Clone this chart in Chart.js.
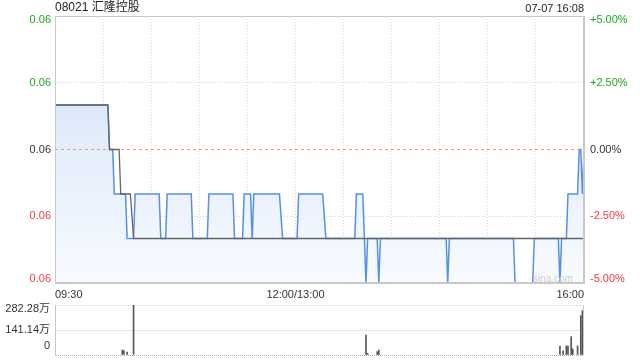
<!DOCTYPE html>
<html lang="zh">
<head>
  <meta charset="UTF-8">
  <title>08021 汇隆控股 - 分时</title>
  <script src="https://cdn.jsdelivr.net/npm/chart.js"></script>
  <style>
    body { margin: 0; background: #fff; overflow: hidden; }
    .wrap {
      position: relative;
      width: 640px;
      height: 360px;
      overflow: hidden;
      font-family: Arial, "Liberation Sans", "Noto Sans CJK SC", sans-serif;
    }
    #mainChart { position: absolute; left: 0; top: 0; }
    #volChart { position: absolute; left: 0; top: 280px; }
    .title { position: absolute; left: 55px; top: 0; font-size: 12px; line-height: 15px; color: #222; }
    .stamp { position: absolute; right: 56px; top: 1px; font-size: 11px; line-height: 14px; color: #222; }
    .mark { position: absolute; left: 533px; top: 273px; font-size: 10px; color: #ccc; pointer-events: none; }
  </style>
</head>
<body>
  <div class="wrap">
    <canvas id="mainChart" width="640" height="305"></canvas>
    <canvas id="volChart" width="640" height="100"></canvas>
    <div class="title">08021 汇隆控股</div>
    <div class="stamp">07-07 16:08</div>
    <div class="mark">sina.com</div>
  </div>

  <script>
    // données
    const prevClose = 0.060;
    const priceTicks = [0.057, 0.0585, 0.060, 0.0615, 0.063];
    const pctTicks = [-5, -2.5, 0, 2.5, 5];
    const tickTimes = ['09:30', '12:00', '16:00'];
    const tickTexts = ['09:30', '12:00/13:00', '16:00'];

    const priceTimes = ['09:30', '10:03', '10:04', '10:06', '10:07', '10:14', '10:15', '10:19', '10:20', '10:35',
      '10:36', '10:39', '10:40', '10:55', '10:56', '11:05', '11:06', '11:21', '11:22', '11:27',
      '11:28', '11:32', '11:33', '11:34', '11:50', '11:52', '13:01', '13:02', '13:17', '13:19',
      '13:37', '13:38', '13:42', '13:44', '13:45', '13:51', '13:52', '13:53', '14:34', '14:35',
      '14:36', '15:16', '15:17', '15:28', '15:29', '15:44', '15:45', '15:46', '15:49', '15:50',
      '15:56', '15:57', '15:58', '15:59', '16:00'];
    const priceValues = [0.061, 0.061, 0.060, 0.060, 0.059, 0.059, 0.058, 0.058, 0.059, 0.059,
      0.058, 0.058, 0.059, 0.059, 0.058, 0.058, 0.059, 0.059, 0.058, 0.058,
      0.059, 0.059, 0.058, 0.059, 0.059, 0.058, 0.058, 0.059, 0.059, 0.058,
      0.058, 0.059, 0.059, 0.057, 0.058, 0.058, 0.057, 0.058, 0.058, 0.057,
      0.058, 0.058, 0.057, 0.057, 0.058, 0.058, 0.057, 0.058, 0.058, 0.059,
      0.059, 0.060, 0.060, 0.059, 0.060];

    const avgTimes = ['09:30', '10:03', '10:04', '10:10', '10:11', '10:17', '10:19', '16:00'];
    const avgValues = [0.061, 0.061, 0.060, 0.060, 0.059, 0.059, 0.058, 0.058];

    const volTimes = ['10:12', '10:13', '10:15', '10:19', '13:44', '13:45', '13:51', '13:52',
      '15:45', '15:47', '15:49', '15:50', '15:52', '15:53', '15:56', '15:58', '15:59'];
    const volValues = [28, 25, 17, 282.28, 113, 10, 19, 28,
      51, 23, 51, 51, 103, 34, 51, 222, 250];
    const volTicks = [0, 141.14, 282.28];
    const volTexts = ['0', '141.14万', '282.28万'];

    // minutes de séance depuis 09:30, pause de midi retirée
    function toIdx(t) {
      const [h, m] = t.split(':').map(Number);
      const mins = h * 60 + m;
      return mins <= 720 ? mins - 570 : mins - 630;
    }
    const pts = (times, vals) => times.map((t, i) => ({ x: toIdx(t), y: vals[i] }));

    const GREEN = '#1ea51e', RED = '#f03c3c', DARK = '#333';
    const FONT = { family: 'Arial, "Liberation Sans", "Noto Sans CJK SC", sans-serif', size: 11, lineHeight: 0.8 };

    const frame = {
      id: 'frame',
      afterDraw(chart, args, opts) {
        const { ctx, chartArea: a } = chart;
        const l = Math.round(a.left) + 0.5, r = Math.round(a.right) - 0.5;
        const t = Math.round(a.top) + 0.5, b = Math.round(a.bottom) - 0.5;
        ctx.save();
        ctx.strokeStyle = '#c8c8c8';
        ctx.lineWidth = 1;
        ctx.beginPath();
        if (opts.box) {
          ctx.rect(l, t, r - l, b - t);
        } else {
          ctx.moveTo(l, t); ctx.lineTo(l, b);
          ctx.moveTo(r, t); ctx.lineTo(r, b);
        }
        ctx.stroke();
        ctx.restore();
      }
    };

    function tickColor(v, ref) {
      if (Math.abs(v - ref) < 1e-9) return DARK;
      return v > ref ? GREEN : RED;
    }

    new Chart(document.getElementById('mainChart'), {
      type: 'line',
      data: {
        datasets: [{
          label: '均价',
          data: pts(avgTimes, avgValues),
          borderColor: '#666',
          borderWidth: 1.3,
          pointRadius: 0,
          fill: false
        }, {
          label: '昨收',
          data: [{ x: 0, y: prevClose }, { x: 330, y: prevClose }],
          borderColor: '#f09a66',
          borderWidth: 1,
          borderDash: [3, 3],
          pointRadius: 0,
          fill: false
        }, {
          label: '价格',
          data: pts(priceTimes, priceValues),
          borderColor: '#5590e8',
          borderWidth: 1.5,
          pointRadius: 0,
          fill: 'start',
          backgroundColor: (c) => {
            const area = c.chart.chartArea;
            if (!area) return '#e4edfa';
            const g = c.chart.ctx.createLinearGradient(0, area.top, 0, area.bottom);
            g.addColorStop(0, '#d0e0f7');
            g.addColorStop(1, '#f8fbff');
            return g;
          }
        }]
      },
      options: {
        responsive: false,
        animation: false,
        layout: { padding: { top: 16 } },
        plugins: {
          legend: { display: false },
          tooltip: { enabled: false },
          frame: { box: true }
        },
        scales: {
          x: {
            type: 'linear',
            min: 0,
            max: 330,
            afterFit: (s) => { s.height = 22; },
            grid: { color: '#d4d4d4', drawTicks: false },
            border: { color: '#c8c8c8', dash: [1, 2] },
            ticks: {
              stepSize: 30,
              autoSkip: false,
              maxRotation: 0,
              align: 'inner',
              padding: 5,
              color: DARK,
              font: { family: FONT.family, size: 11 },
              callback: (v) => {
                const i = tickTimes.map(toIdx).indexOf(v);
                return i >= 0 ? tickTexts[i] : '';
              }
            }
          },
          y: {
            position: 'left',
            min: priceTicks[0],
            max: priceTicks[priceTicks.length - 1],
            afterFit: (s) => { s.width = 55; },
            afterBuildTicks: (s) => { s.ticks = priceTicks.map(v => ({ value: v })); },
            grid: {
              drawTicks: false,
              color: (c) => (c.tick && Math.abs(c.tick.value - prevClose) < 1e-9) ? 'rgba(0,0,0,0)' : '#d4d4d4'
            },
            border: { color: '#c8c8c8', dash: [1, 2] },
            ticks: {
              padding: 4,
              autoSkip: false,
              font: FONT,
              color: (c) => tickColor(c.tick.value, prevClose),
              callback: (v, i, arr) => {
                const s = v.toFixed(2);
                if (i === arr.length - 1) return ['', s];
                if (i === 0) return [s, ''];
                return s;
              }
            }
          },
          pct: {
            position: 'right',
            min: -5,
            max: 5,
            afterFit: (s) => { s.width = 56; },
            afterBuildTicks: (s) => { s.ticks = pctTicks.map(v => ({ value: v })); },
            grid: { display: false, drawTicks: false },
            border: { color: '#c8c8c8' },
            ticks: {
              padding: 6,
              autoSkip: false,
              font: FONT,
              color: (c) => tickColor(c.tick.value, 0),
              callback: (v, i, arr) => {
                const s = (v > 0 ? '+' : '') + v.toFixed(2) + '%';
                if (i === arr.length - 1) return ['', s];
                if (i === 0) return [s, ''];
                return s;
              }
            }
          }
        }
      },
      plugins: [frame]
    });

    // canvas du volume: 280 -> 380, zone de tracé 305 -> 355
    new Chart(document.getElementById('volChart'), {
      type: 'bar',
      data: {
        datasets: [{
          label: '成交量',
          data: pts(volTimes, volValues),
          backgroundColor: '#555',
          barThickness: 1
        }]
      },
      options: {
        responsive: false,
        animation: false,
        layout: { padding: { top: 25, bottom: 25, right: 56 } },
        plugins: {
          legend: { display: false },
          tooltip: { enabled: false },
          frame: { box: false }
        },
        scales: {
          x: {
            type: 'linear',
            min: 0,
            max: 330,
            offset: false,
            display: false
          },
          y: {
            min: 0,
            max: volTicks[volTicks.length - 1],
            afterFit: (s) => { s.width = 55; },
            afterBuildTicks: (s) => { s.ticks = volTicks.map(v => ({ value: v })); },
            grid: {
              drawTicks: false,
              color: (c) => (c.tick && c.tick.value === 0) ? '#aaa' : '#cfcfcf'
            },
            border: { color: '#c8c8c8', dash: [1, 1] },
            ticks: {
              padding: 5,
              autoSkip: false,
              font: FONT,
              color: DARK,
              callback: (v, i, arr) => {
                const s = volTexts[i];
                if (i === arr.length - 1) return ['', s];
                if (i === 0) return [s, '', ''];
                return s;
              }
            }
          }
        }
      },
      plugins: [frame]
    });
  </script>
</body>
</html>
